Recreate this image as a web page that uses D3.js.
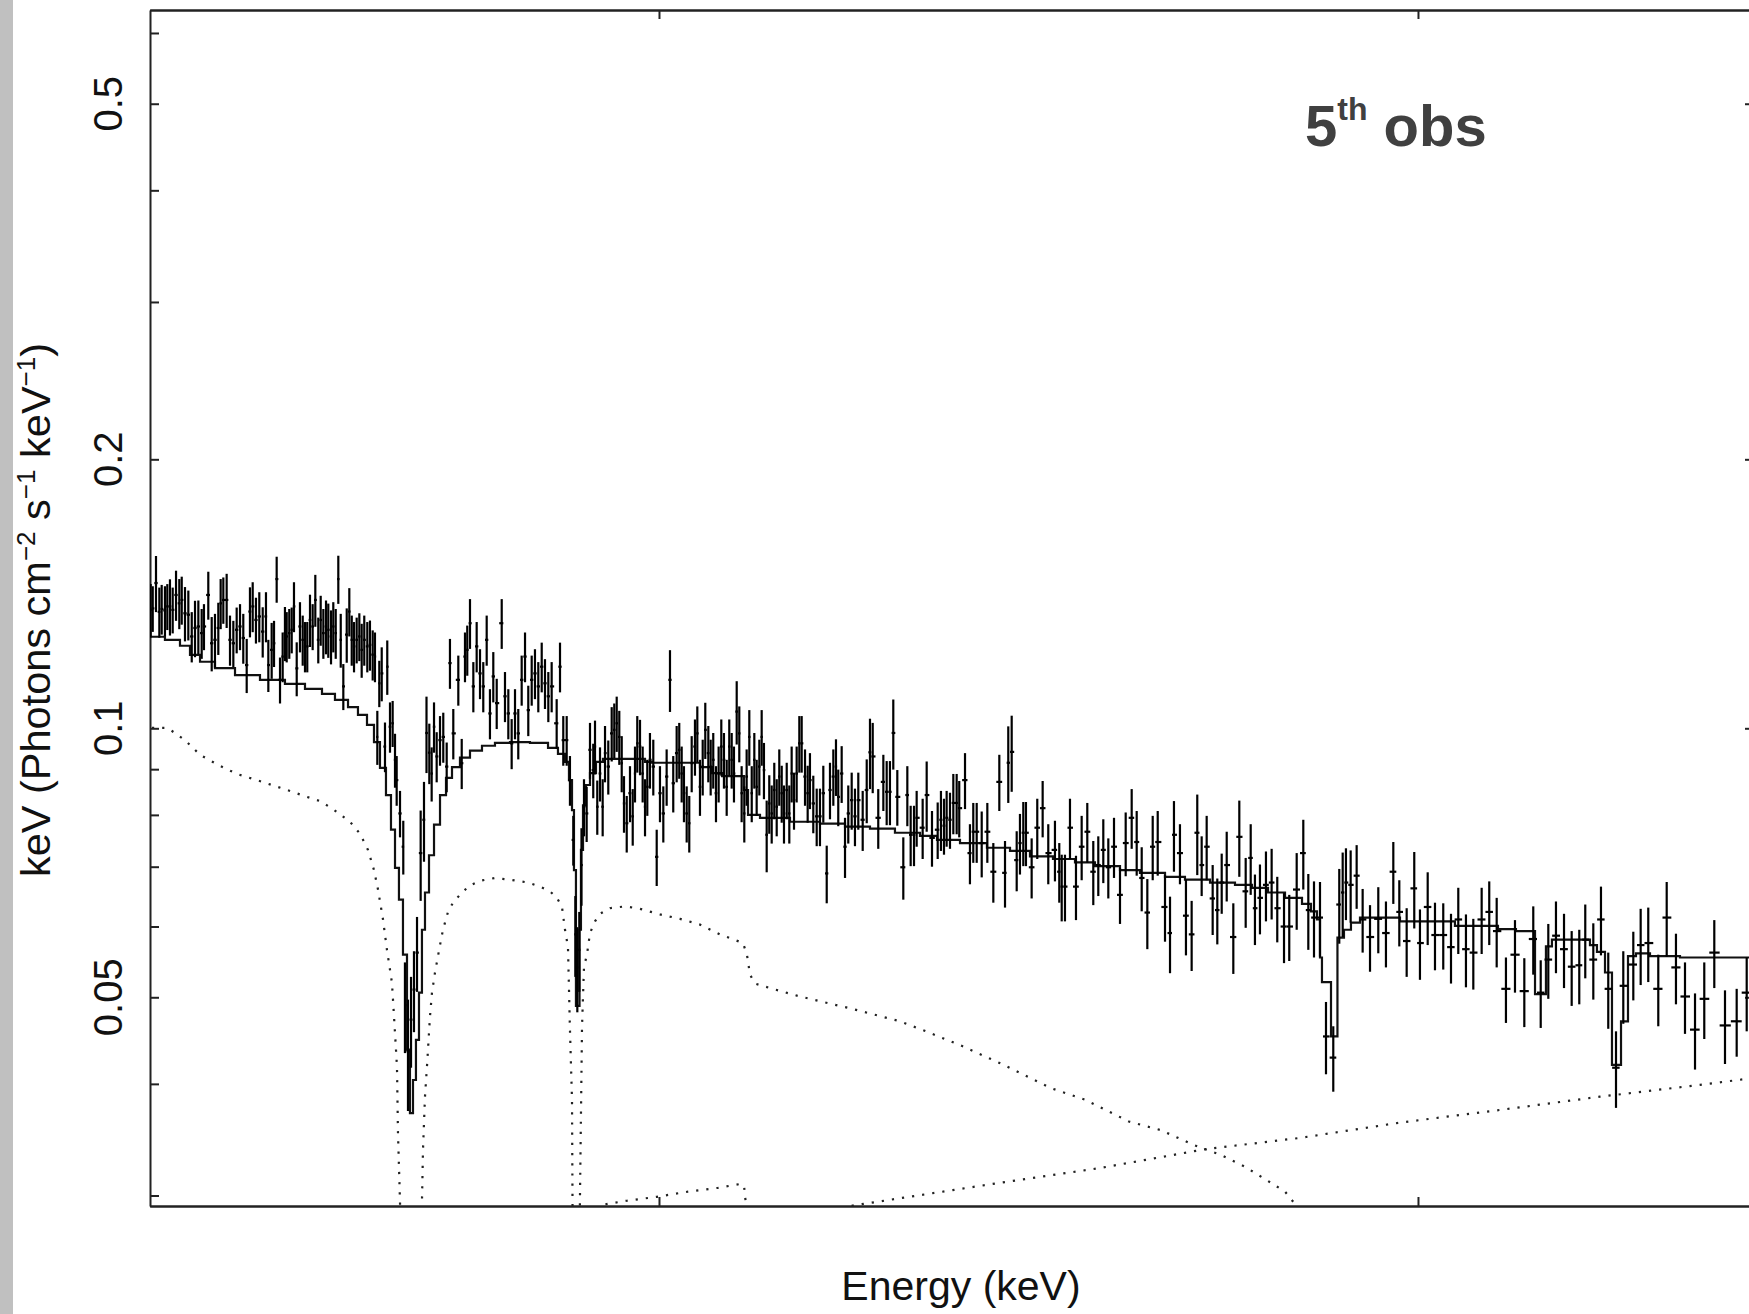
<!DOCTYPE html>
<html>
<head>
<meta charset="utf-8">
<script src="https://cdn.jsdelivr.net/npm/d3@7"></script>
<style>
  html, body { margin: 0; padding: 0; background: #fff; }
  svg { display: block; font-family: "Liberation Sans", Arial, sans-serif; }
</style>
</head>
<body>
<svg id="chart"></svg>
<script>
// unfolded spectrum, keV (Photons cm^-2 s^-1 keV^-1) vs energy (keV)
const energy = [
  0.3303, 0.3330, 0.3373, 0.3417, 0.3448, 0.3491, 0.3522, 0.3557, 0.3593, 0.3637,
  0.3680, 0.3712, 0.3755, 0.3799, 0.3844, 0.3887, 0.3931, 0.3975, 0.4005, 0.4062,
  0.4107, 0.4150, 0.4194, 0.4225, 0.4260, 0.4304, 0.4348, 0.4392, 0.4436, 0.4480,
  0.4523, 0.4568, 0.4611, 0.4647, 0.4690, 0.4734, 0.4779, 0.4822, 0.4853, 0.4897,
  0.4928, 0.4963, 0.5007, 0.5042, 0.5072, 0.5095, 0.5129, 0.5161, 0.5191, 0.5227,
  0.5270, 0.5306, 0.5336, 0.5366, 0.5402, 0.5437, 0.5472, 0.5511, 0.5543, 0.5578,
  0.5613, 0.5643, 0.5679, 0.5709, 0.5741, 0.5775, 0.5807, 0.5841, 0.5886, 0.5920,
  0.5952, 0.5982, 0.6017, 0.6052, 0.6083, 0.6117, 0.6157, 0.6192, 0.6228, 0.6258,
  0.6289, 0.6315, 0.6347, 0.6390, 0.6420, 0.6456, 0.6491, 0.6522, 0.6544, 0.6588,
  0.6631,
  0.6653, 0.6693, 0.6733, 0.6772, 0.6812, 0.6860, 0.6904, 0.6937, 0.6974,
  0.7005, 0.7036, 0.7071, 0.7115, 0.7158, 0.7203, 0.7246, 0.7290, 0.7356, 0.7401,
  0.7444, 0.7474, 0.7510, 0.7554, 0.7598, 0.7642, 0.7685, 0.7730, 0.7773, 0.7817,
  0.7862, 0.7928, 0.7971, 0.8015, 0.8059, 0.8103, 0.8146, 0.8191, 0.8235, 0.8278,
  0.8323, 0.8366, 0.8410, 0.8455, 0.8498, 0.8542, 0.8586, 0.8652, 0.8696, 0.8739,
  0.8784, 0.8827, 0.8871,
  0.8898, 0.8924, 0.8950, 0.8979,
  0.9012, 0.9047, 0.9091, 0.9134, 0.9157, 0.9187, 0.9223, 0.9258, 0.9289, 0.9332,
  0.9377, 0.9411, 0.9443, 0.9477, 0.9509, 0.9539, 0.9575, 0.9618, 0.9654, 0.9684,
  0.9714, 0.9750, 0.9785, 0.9816, 0.9846, 0.9881, 0.9925, 0.9970, 1.0013, 1.0057,
  1.0101, 1.0145, 1.0188, 1.0233, 1.0267, 1.0299, 1.0329, 1.0365, 1.0399, 1.0431,
  1.0474, 1.0505, 1.0540, 1.0576, 1.0610, 1.0650, 1.0681, 1.0715, 1.0751, 1.0786,
  1.0821, 1.0856, 1.0892, 1.0926, 1.0958, 1.0988, 1.1024, 1.1058, 1.1089, 1.1124,
  1.1155, 1.1190, 1.1222, 1.1256, 1.1287, 1.1322, 1.1353, 1.1383, 1.1419, 1.1453,
  1.1485, 1.1519, 1.1551, 1.1585, 1.1617, 1.1647, 1.1683, 1.1717, 1.1748, 1.1779,
  1.1814, 1.1849, 1.1880, 1.1924, 1.1959, 1.1989, 1.2033, 1.2078, 1.2121, 1.2165,
  1.2210, 1.2253, 1.2297, 1.2332, 1.2362, 1.2407, 1.2451, 1.2494, 1.2539, 1.2582,
  1.2626,
  1.2684, 1.2737, 1.2780, 1.2816, 1.2889, 1.2956, 1.3000, 1.3043, 1.3087, 1.3140,
  1.3219, 1.3272, 1.3316, 1.3360, 1.3395, 1.3474, 1.3527, 1.3597, 1.3672, 1.3715,
  1.3755, 1.3790, 1.3834, 1.3878, 1.3922, 1.3956, 1.4032, 1.4097, 1.4141, 1.4186,
  1.4252, 1.4326, 1.4405, 1.4484, 1.4559, 1.4602, 1.4647, 1.4713, 1.4756, 1.4800,
  1.4835, 1.4910, 1.4984, 1.5055, 1.5129, 1.5217, 1.5274, 1.5306, 1.5349, 1.5415,
  1.5494, 1.5569, 1.5643, 1.5722, 1.5788, 1.5854, 1.5920, 1.5995, 1.6074, 1.6149,
  1.6228, 1.6294, 1.6360, 1.6434, 1.6505, 1.6571,
  1.6667, 1.6733, 1.6785, 1.6864, 1.6943, 1.7018, 1.7092, 1.7150, 1.7216, 1.7295,
  1.7356, 1.7414, 1.7480, 1.7567, 1.7646, 1.7730, 1.7796, 1.7852, 1.7918, 1.7997,
  1.8072, 1.8146, 1.8235, 1.8304, 1.8402,
  1.8489, 1.8555, 1.8630, 1.8709, 1.8788, 1.8884, 1.8963, 1.9008, 1.9051, 1.9113,
  1.9192, 1.9271, 1.9368, 1.9477, 1.9578, 1.9675, 1.9754, 1.9851, 1.9951, 2.0026,
  2.0128, 2.0224, 2.0333, 2.0435, 2.0531, 2.0632, 2.0729, 2.0839, 2.0939, 2.1037,
  2.1159, 2.1278, 2.1401, 2.1519, 2.1617, 2.1717, 2.1818, 2.1924, 2.2025, 2.2125,
  2.2204, 2.2310, 2.2411, 2.2507, 2.2609, 2.2705, 2.2837, 2.2934, 2.3034, 2.3166,
  2.3277, 2.3399, 2.3518, 2.3650, 2.3772, 2.3904, 2.4045, 2.4199, 2.4331
];

const flux = [
  0.1357, 0.1362, 0.1454, 0.1350, 0.1360, 0.1355, 0.1369, 0.1369, 0.1357, 0.1410,
  0.1380, 0.1392, 0.1345, 0.1340, 0.1267, 0.1295, 0.1300, 0.1278, 0.1300, 0.1410,
  0.1245, 0.1256, 0.1295, 0.1380, 0.1392, 0.1392, 0.1256, 0.1245, 0.1289, 0.1300,
  0.1262, 0.1177, 0.1351, 0.1369, 0.1322, 0.1334, 0.1283, 0.1334, 0.1177, 0.1224,
  0.1245, 0.1469, 0.1133, 0.1203, 0.1278, 0.1267, 0.1278, 0.1289, 0.1369, 0.1167,
  0.1300, 0.1256, 0.1235, 0.1235, 0.1322, 0.1300, 0.1392, 0.1256, 0.1322, 0.1278,
  0.1300, 0.1289, 0.1267, 0.1300, 0.1278, 0.1469, 0.1256, 0.1114, 0.1273, 0.1351,
  0.1256, 0.1235, 0.1256, 0.1267, 0.1224, 0.1256, 0.1235, 0.1240, 0.1209, 0.1203,
  0.0978, 0.1123, 0.1152, 0.0954, 0.1172, 0.1004, 0.1013, 0.0922, 0.0875, 0.0803,
  0.0737,
  0.0490, 0.0435, 0.0472, 0.0510, 0.0561, 0.0725, 0.0790, 0.0988, 0.0939,
  0.0890, 0.1004, 0.0930, 0.0970, 0.0978, 0.0906, 0.1183, 0.0987, 0.1133, 0.0914,
  0.1203, 0.1224, 0.1311, 0.1114, 0.1235, 0.1152, 0.1114, 0.1256, 0.1039, 0.1143,
  0.1067, 0.1311, 0.1086, 0.1039, 0.0962, 0.1039, 0.0987, 0.1133, 0.1203, 0.1048,
  0.1133, 0.1152, 0.1114, 0.1172, 0.1123, 0.1086, 0.1114, 0.1013, 0.1172, 0.0970,
  0.0970, 0.0875, 0.0750,
  0.0588, 0.0540, 0.0565, 0.0703,
  0.0817, 0.0803, 0.0946, 0.0898, 0.0954, 0.0817, 0.0890, 0.0817, 0.0938, 0.0906,
  0.0987, 0.0996, 0.1013, 0.0978, 0.0914, 0.0824, 0.0783, 0.0846, 0.0797, 0.0890,
  0.0962, 0.0954, 0.0890, 0.0817, 0.0860, 0.0922, 0.0906, 0.0718, 0.0846, 0.0803,
  0.0883, 0.1133, 0.0868, 0.0938, 0.0946, 0.0890, 0.0846, 0.0803, 0.0783, 0.0914,
  0.0954, 0.0987, 0.0860, 0.0906, 0.0996, 0.0938, 0.0906, 0.0922, 0.0846, 0.0890,
  0.0954, 0.0922, 0.0860, 0.0954, 0.0922, 0.0890, 0.1044, 0.0987, 0.0846, 0.0803,
  0.0883, 0.0978, 0.0846, 0.0922, 0.0860, 0.0906, 0.0978, 0.0898, 0.0760, 0.0824,
  0.0803, 0.0853, 0.0817, 0.0883, 0.0846, 0.0803, 0.0853, 0.0803, 0.0890, 0.0831,
  0.0890, 0.0962, 0.0962, 0.0883, 0.0846, 0.0875, 0.0824, 0.0797, 0.0797, 0.0846,
  0.0688, 0.0853, 0.0883, 0.0906, 0.0838, 0.0890, 0.0737, 0.0803, 0.0831, 0.0797,
  0.0831,
  0.0790, 0.0853, 0.0940, 0.0930, 0.0794, 0.0871, 0.0849, 0.0849, 0.0988, 0.0838,
  0.0699, 0.0842, 0.0760, 0.0760, 0.0794, 0.0774, 0.0842, 0.0754, 0.0770, 0.0790,
  0.0778, 0.0794, 0.0790, 0.0825, 0.0825, 0.0814, 0.0875, 0.0725, 0.0766, 0.0766,
  0.0744, 0.0766, 0.0691, 0.0871, 0.0689, 0.0915, 0.0941, 0.0712, 0.0744, 0.0764,
  0.0764, 0.0699, 0.0774, 0.0814, 0.0725, 0.0731, 0.0691, 0.0665, 0.0665, 0.0774,
  0.0665, 0.0737, 0.0766, 0.0691, 0.0703, 0.0731, 0.0699, 0.0737, 0.0651, 0.0744,
  0.0794, 0.0746, 0.0680, 0.0622, 0.0737, 0.0746,
  0.0631, 0.0590, 0.0760, 0.0725, 0.0617, 0.0588, 0.0764, 0.0703, 0.0737, 0.0645,
  0.0626, 0.0672, 0.0703, 0.0584, 0.0756, 0.0657, 0.0716, 0.0629, 0.0646, 0.0668,
  0.0672, 0.0629, 0.0600, 0.0600, 0.0660,
  0.0725, 0.0626, 0.0614, 0.0614, 0.0452, 0.0428, 0.0635, 0.0655, 0.0672, 0.0668,
  0.0684, 0.0611, 0.0584, 0.0612, 0.0590, 0.0691, 0.0623, 0.0578, 0.0662, 0.0575,
  0.0631, 0.0587, 0.0587, 0.0569, 0.0611, 0.0566, 0.0561, 0.0611, 0.0623, 0.0593,
  0.0511, 0.0558, 0.0508, 0.0581, 0.0506, 0.0551, 0.0586, 0.0566, 0.0541, 0.0543,
  0.0580, 0.0551, 0.0611, 0.0511, 0.0417, 0.0515, 0.0544, 0.0572, 0.0575, 0.0511,
  0.0614, 0.0540, 0.0501, 0.0460, 0.0498, 0.0561, 0.0465, 0.0470, 0.0506
];

const fluxErr = [
  0.0093, 0.0080, 0.0105, 0.0087, 0.0087, 0.0087, 0.0081, 0.0099, 0.0080, 0.0091,
  0.0089, 0.0086, 0.0094, 0.0086, 0.0082, 0.0094, 0.0090, 0.0082, 0.0077, 0.0087,
  0.0087, 0.0087, 0.0087, 0.0089, 0.0083, 0.0097, 0.0081, 0.0074, 0.0076, 0.0077,
  0.0081, 0.0082, 0.0087, 0.0088, 0.0078, 0.0086, 0.0083, 0.0086, 0.0079, 0.0088,
  0.0074, 0.0087, 0.0067, 0.0077, 0.0089, 0.0082, 0.0082, 0.0076, 0.0088, 0.0081,
  0.0084, 0.0081, 0.0080, 0.0080, 0.0089, 0.0077, 0.0093, 0.0074, 0.0085, 0.0082,
  0.0090, 0.0090, 0.0088, 0.0084, 0.0082, 0.0091, 0.0087, 0.0066, 0.0089, 0.0084,
  0.0081, 0.0080, 0.0074, 0.0078, 0.0085, 0.0081, 0.0080, 0.0080, 0.0078, 0.0077,
  0.0068, 0.0067, 0.0080, 0.0061, 0.0082, 0.0065, 0.0060, 0.0064, 0.0056, 0.0048,
  0.0051,
  0.0057, 0.0062, 0.0055, 0.0053, 0.0054, 0.0084, 0.0081, 0.0097, 0.0073,
  0.0062, 0.0065, 0.0060, 0.0062, 0.0063, 0.0058, 0.0076, 0.0064, 0.0073, 0.0059,
  0.0077, 0.0079, 0.0084, 0.0072, 0.0080, 0.0074, 0.0072, 0.0081, 0.0067, 0.0074,
  0.0069, 0.0084, 0.0070, 0.0067, 0.0062, 0.0067, 0.0064, 0.0073, 0.0077, 0.0068,
  0.0073, 0.0074, 0.0072, 0.0075, 0.0072, 0.0070, 0.0072, 0.0065, 0.0075, 0.0062,
  0.0062, 0.0056, 0.0048,
  0.0061, 0.0059, 0.0058, 0.0070,
  0.0060, 0.0057, 0.0068, 0.0063, 0.0066, 0.0057, 0.0062, 0.0060, 0.0068, 0.0063,
  0.0069, 0.0070, 0.0072, 0.0068, 0.0066, 0.0060, 0.0057, 0.0061, 0.0058, 0.0064,
  0.0070, 0.0068, 0.0064, 0.0060, 0.0062, 0.0066, 0.0065, 0.0052, 0.0061, 0.0058,
  0.0064, 0.0090, 0.0063, 0.0068, 0.0068, 0.0064, 0.0061, 0.0058, 0.0057, 0.0066,
  0.0069, 0.0071, 0.0062, 0.0065, 0.0072, 0.0068, 0.0065, 0.0066, 0.0061, 0.0064,
  0.0069, 0.0066, 0.0062, 0.0069, 0.0066, 0.0064, 0.0085, 0.0071, 0.0061, 0.0058,
  0.0064, 0.0070, 0.0061, 0.0066, 0.0062, 0.0065, 0.0070, 0.0065, 0.0070, 0.0062,
  0.0060, 0.0062, 0.0060, 0.0064, 0.0062, 0.0060, 0.0062, 0.0060, 0.0064, 0.0061,
  0.0064, 0.0070, 0.0070, 0.0064, 0.0062, 0.0063, 0.0061, 0.0059, 0.0059, 0.0062,
  0.0051, 0.0062, 0.0064, 0.0066, 0.0061, 0.0065, 0.0057, 0.0060, 0.0061, 0.0059,
  0.0061,
  0.0061, 0.0070, 0.0085, 0.0084, 0.0061, 0.0063, 0.0070, 0.0070, 0.0089, 0.0060,
  0.0056, 0.0065, 0.0059, 0.0059, 0.0057, 0.0060, 0.0076, 0.0054, 0.0056, 0.0061,
  0.0056, 0.0057, 0.0057, 0.0064, 0.0064, 0.0059, 0.0063, 0.0056, 0.0059, 0.0059,
  0.0063, 0.0059, 0.0053, 0.0063, 0.0059, 0.0090, 0.0092, 0.0055, 0.0058, 0.0063,
  0.0063, 0.0054, 0.0060, 0.0059, 0.0056, 0.0057, 0.0053, 0.0057, 0.0057, 0.0060,
  0.0055, 0.0061, 0.0059, 0.0057, 0.0054, 0.0060, 0.0054, 0.0057, 0.0047, 0.0061,
  0.0061, 0.0062, 0.0056, 0.0056, 0.0061, 0.0062,
  0.0054, 0.0058, 0.0069, 0.0056, 0.0060, 0.0053, 0.0079, 0.0054, 0.0061, 0.0058,
  0.0053, 0.0052, 0.0063, 0.0053, 0.0074, 0.0059, 0.0065, 0.0057, 0.0058, 0.0060,
  0.0061, 0.0053, 0.0054, 0.0051, 0.0065,
  0.0065, 0.0061, 0.0060, 0.0059, 0.0042, 0.0036, 0.0061, 0.0071, 0.0062, 0.0062,
  0.0056, 0.0050, 0.0050, 0.0052, 0.0050, 0.0055, 0.0053, 0.0051, 0.0065, 0.0052,
  0.0059, 0.0051, 0.0050, 0.0051, 0.0052, 0.0053, 0.0051, 0.0052, 0.0051, 0.0053,
  0.0043, 0.0052, 0.0045, 0.0051, 0.0044, 0.0053, 0.0054, 0.0054, 0.0052, 0.0052,
  0.0055, 0.0054, 0.0054, 0.0050, 0.0041, 0.0048, 0.0048, 0.0056, 0.0055, 0.0047,
  0.0059, 0.0049, 0.0046, 0.0045, 0.0049, 0.0049, 0.0044, 0.0041, 0.0048
];

// total model (histogram steps)
const modelEnergy = [
  0.3294, 0.3491, 0.3689, 0.3821, 0.3953, 0.4150, 0.4414, 0.4743, 0.5072, 0.5336,
  0.5560, 0.5731, 0.5903, 0.6034, 0.6153, 0.6245, 0.6324, 0.6403, 0.6469, 0.6522,
  0.6574, 0.6627, 0.6680, 0.6719, 0.6759, 0.6798, 0.6838, 0.6877, 0.6917, 0.6970,
  0.7036, 0.7115, 0.7194, 0.7273, 0.7378, 0.7510, 0.7668, 0.7839, 0.8037, 0.8300,
  0.8538, 0.8669, 0.8762, 0.8814, 0.8854, 0.8880, 0.8906, 0.8953, 0.8972, 0.8999,
  0.9038, 0.9091, 0.9170, 0.9262, 0.9816, 0.9908, 1.0540, 1.0698, 1.0830, 1.1120,
  1.1173, 1.1331, 1.1726, 1.2121, 1.2451, 1.2780, 1.3109, 1.3439, 1.3663, 1.3966,
  1.4321, 1.4625, 1.4888, 1.5191, 1.5481, 1.5744, 1.6074, 1.6337, 1.6667, 1.6930,
  1.7260, 1.7589, 1.7813, 1.8024, 1.8248, 1.8472, 1.8590, 1.8669, 1.8709, 1.8735,
  1.8854, 1.8939, 1.9025, 1.9117, 1.9236, 1.9763, 2.0487, 2.1054, 2.1291, 2.1542,
  2.1686, 2.1765, 2.2266, 2.2358, 2.2464, 2.2556, 2.2675, 2.2767, 2.2872, 2.3057,
  2.3452, 2.4414
];
const modelFlux = [
  0.1266, 0.1256, 0.1237, 0.1208, 0.1187, 0.1168, 0.1147, 0.1133, 0.1121, 0.1107,
  0.1093, 0.1076, 0.1056, 0.1035, 0.1009, 0.0965, 0.0903, 0.0842, 0.0770, 0.0698,
  0.0643, 0.0558, 0.0437, 0.0371, 0.0404, 0.0448, 0.0506, 0.0595, 0.0655, 0.0721,
  0.0780, 0.0842, 0.0880, 0.0905, 0.0927, 0.0944, 0.0956, 0.0963, 0.0965, 0.0963,
  0.0951, 0.0936, 0.0917, 0.0875, 0.0810, 0.0694, 0.0489, 0.0595, 0.0731, 0.0820,
  0.0864, 0.0891, 0.0917, 0.0924, 0.0917, 0.0915, 0.0905, 0.0891, 0.0884, 0.0853,
  0.0800, 0.0794, 0.0786, 0.0782, 0.0776, 0.0772, 0.0764, 0.0758, 0.0750, 0.0744,
  0.0735, 0.0729, 0.0719, 0.0714, 0.0708, 0.0701, 0.0694, 0.0689, 0.0682, 0.0677,
  0.0672, 0.0668, 0.0663, 0.0655, 0.0646, 0.0636, 0.0624, 0.0611, 0.0554, 0.0520,
  0.0452, 0.0583, 0.0595, 0.0606, 0.0614, 0.0608, 0.0601, 0.0596, 0.0593, 0.0504,
  0.0570, 0.0580, 0.0572, 0.0562, 0.0533, 0.0420, 0.0470, 0.0556, 0.0560, 0.0556,
  0.0554, 0.0554
];

// soft (absorbed) component, dotted
const softEnergy = [
  0.3320, 0.3518, 0.3584, 0.3755, 0.3953, 0.4190, 0.4440, 0.4704, 0.5099, 0.5362,
  0.5534, 0.5705, 0.5929, 0.6061, 0.6166, 0.6245, 0.6298, 0.6364, 0.6416, 0.6482,
  0.6522, 0.6548, 0.6561, 0.6588, 0.6614, 0.6851, 0.6877, 0.6891, 0.6917, 0.6943,
  0.6983, 0.7009, 0.7049, 0.7115, 0.7154, 0.7220, 0.7286, 0.7404, 0.7510, 0.7642,
  0.7839, 0.8037, 0.8274, 0.8432, 0.8564, 0.8656, 0.8722, 0.8762, 0.8801, 0.8827,
  0.8854, 0.8867, 0.8946, 0.8959, 0.8986, 0.9012, 0.9051, 0.9091, 0.9157, 0.9223,
  0.9354, 0.9552, 0.9750, 1.0013, 1.0277, 1.0540, 1.0804, 1.1107, 1.1159, 1.1199,
  1.1265, 1.1462, 1.1858, 1.2516, 1.3175, 1.3518, 1.3966, 1.4545, 1.5152, 1.5613,
  1.6192, 1.6614, 1.7036, 1.7404, 1.7721, 1.7984, 1.8248, 1.8445, 1.8577
];
const softFlux = [
  0.1001, 0.1001, 0.0993, 0.0970, 0.0934, 0.0910, 0.0889, 0.0875, 0.0853, 0.0838,
  0.0829, 0.0812, 0.0786, 0.0762, 0.0731, 0.0694, 0.0660, 0.0611, 0.0565, 0.0519,
  0.0456, 0.0418, 0.0353, 0.0295, 0.0230, 0.0230, 0.0295, 0.0338, 0.0387, 0.0418,
  0.0476, 0.0506, 0.0533, 0.0572, 0.0595, 0.0623, 0.0638, 0.0655, 0.0667, 0.0675,
  0.0680, 0.0677, 0.0672, 0.0665, 0.0657, 0.0646, 0.0631, 0.0595, 0.0569, 0.0460,
  0.0384, 0.0230, 0.0230, 0.0299, 0.0464, 0.0541, 0.0558, 0.0590, 0.0608, 0.0620,
  0.0629, 0.0632, 0.0628, 0.0619, 0.0612, 0.0603, 0.0588, 0.0575, 0.0558, 0.0530,
  0.0518, 0.0512, 0.0501, 0.0486, 0.0470, 0.0458, 0.0442, 0.0420, 0.0396, 0.0384,
  0.0363, 0.0355, 0.0342, 0.0333, 0.0323, 0.0313, 0.0303, 0.0289, 0.0275
];

// hard component, dotted
const hardEnergy = [
  0.9091, 0.9262, 0.9578, 0.9974, 1.0382, 1.0777, 1.1067, 1.1120, 1.1173, 1.2516,
  1.4493, 1.5810, 1.7194, 1.8445, 1.9763, 2.1080, 2.2398, 2.3715, 2.4414
];
const hardFlux = [
  0.0267, 0.0293, 0.0296, 0.0299, 0.0303, 0.0306, 0.0309, 0.0308, 0.0278, 0.0292,
  0.0310, 0.0322, 0.0338, 0.0348, 0.0362, 0.0374, 0.0387, 0.0399, 0.0406
];

const yTicks = [0.03, 0.04, 0.05, 0.06, 0.07, 0.08, 0.09, 0.1, 0.2, 0.3, 0.4, 0.5, 0.6];
const yTickLabels = [0.05, 0.1, 0.2, 0.5];
const xTicks = [1, 2];

const svgWidth = 1749;
const svgHeight = 1314;
const margin = { top: 10, left: 150 };
const width = 1604;
const height = 1196;

const x = d3.scaleLinear().domain([0.3294, 2.4414]).range([0, 1603]);
const y = d3.scaleLog().domain([0.0292, 0.6366]).range([height, 0]);

const svg = d3.select('#chart')
  .attr('width', svgWidth)
  .attr('height', svgHeight);

svg.append('rect')
  .attr('x', 0).attr('y', 0)
  .attr('width', 13).attr('height', svgHeight)
  .attr('fill', '#c0c0c0');

const g = svg.append('g')
  .attr('transform', `translate(${margin.left},${margin.top})`);

g.append('clipPath').attr('id', 'plot')
  .append('rect').attr('width', width).attr('height', height);

// frame and inward ticks
function styleAxis(sel) {
  sel.attr('color', '#222');
  sel.selectAll('path, line').attr('stroke-width', 2);
}
g.append('g')
  .call(d3.axisLeft(y).tickValues(yTicks).tickSize(-9).tickSizeOuter(0).tickFormat(''))
  .call(styleAxis);
// right side sits just past the picture edge: only the major ticks reach into view
g.append('g')
  .attr('transform', `translate(${width},0)`)
  .call(d3.axisRight(y).tickValues(yTicks.filter(t => !yTickLabels.includes(t)))
    .tickSize(-4).tickSizeOuter(0).tickFormat(''))
  .call(styleAxis);
g.append('g')
  .attr('transform', `translate(${width},0)`)
  .call(d3.axisRight(y).tickValues(yTickLabels).tickSize(-9).tickSizeOuter(0).tickFormat(''))
  .call(styleAxis);
g.append('g')
  .attr('transform', `translate(0,${height})`)
  .call(d3.axisBottom(x).tickValues(xTicks).tickSize(-9).tickSizeOuter(0).tickFormat(''))
  .call(styleAxis);
g.append('g')
  .call(d3.axisTop(x).tickValues(xTicks).tickSize(-9).tickSizeOuter(0).tickFormat(''))
  .call(styleAxis);
g.append('line')
  .attr('x1', 0).attr('x2', width)
  .attr('y1', 0.5).attr('y2', 0.5)
  .attr('stroke', '#222').attr('stroke-width', 2);
g.append('line')
  .attr('x1', 0).attr('x2', width)
  .attr('y1', height + 0.5).attr('y2', height + 0.5)
  .attr('stroke', '#222').attr('stroke-width', 2);

g.selectAll('.ylab')
  .data(yTickLabels)
  .join('text')
  .attr('class', 'ylab')
  .attr('transform', d => `translate(-28,${y(d)}) rotate(-90)`)
  .attr('text-anchor', 'middle')
  .attr('font-size', 40)
  .attr('fill', '#111')
  .text(d => d);

// model components (dotted)
const line = d3.line().x(d => x(d[0])).y(d => y(d[1]));
const plot = g.append('g').attr('clip-path', 'url(#plot)');

plot.append('path')
  .datum(softEnergy.map((e, i) => [e, softFlux[i]]))
  .attr('d', line)
  .attr('fill', 'none')
  .attr('stroke', '#222')
  .attr('stroke-width', 2.2)
  .attr('stroke-dasharray', '2.2,8');

plot.append('path')
  .datum(hardEnergy.map((e, i) => [e, hardFlux[i]]))
  .attr('d', line)
  .attr('fill', 'none')
  .attr('stroke', '#222')
  .attr('stroke-width', 2.2)
  .attr('stroke-dasharray', '2.2,8');

// total model
plot.append('path')
  .datum(modelEnergy.map((e, i) => [e, modelFlux[i]]))
  .attr('d', line.curve(d3.curveStepAfter))
  .attr('fill', 'none')
  .attr('stroke', '#111')
  .attr('stroke-width', 2.2);

// data crosses: bin width + 1 sigma
const n = Math.min(energy.length, flux.length, fluxErr.length);
const pts = d3.range(n).map(i => {
  const e = energy[i];
  const prev = i > 0 ? energy[i - 1] : e - (energy[1] - e);
  const next = i < n - 1 ? energy[i + 1] : e + (e - energy[i - 1]);
  return { e, lo: (prev + e) / 2, hi: (e + next) / 2, f: flux[i], err: fluxErr[i] };
});

const dataG = plot.append('g').attr('stroke', '#000').attr('stroke-width', 2.2);

dataG.selectAll('.ebar')
  .data(pts)
  .join('line')
  .attr('class', 'ebar')
  .attr('x1', d => x(d.e)).attr('x2', d => x(d.e))
  .attr('y1', d => y(d.f + d.err)).attr('y2', d => y(d.f - d.err));

dataG.selectAll('.bin')
  .data(pts)
  .join('line')
  .attr('class', 'bin')
  .attr('x1', d => x(d.lo)).attr('x2', d => x(d.hi))
  .attr('y1', d => y(d.f)).attr('y2', d => y(d.f));

// axis titles
svg.append('text')
  .attr('x', 961)
  .attr('y', 1300)
  .attr('text-anchor', 'middle')
  .attr('font-size', 41)
  .attr('fill', '#111')
  .text('Energy (keV)');

const yl = svg.append('text')
  .attr('transform', 'translate(50,610) rotate(-90)')
  .attr('text-anchor', 'middle')
  .attr('font-size', 41.5)
  .attr('fill', '#111');
yl.append('tspan').text('keV (Photons cm');
yl.append('tspan').attr('font-size', 26).attr('dy', -15).text('−2');
yl.append('tspan').attr('dy', 15).text(' s');
yl.append('tspan').attr('font-size', 26).attr('dy', -15).text('−1');
yl.append('tspan').attr('dy', 15).text(' keV');
yl.append('tspan').attr('font-size', 26).attr('dy', -15).text('−1');
yl.append('tspan').attr('dy', 15).text(')');

const tag = svg.append('text')
  .attr('x', 1305)
  .attr('y', 146)
  .attr('font-size', 58)
  .attr('font-weight', 'bold')
  .attr('fill', '#404040');
tag.append('tspan').text('5');
tag.append('tspan').attr('font-size', 32).attr('dy', -26).text('th');
tag.append('tspan').attr('dy', 26).text(' obs');
</script>
</body>
</html>
